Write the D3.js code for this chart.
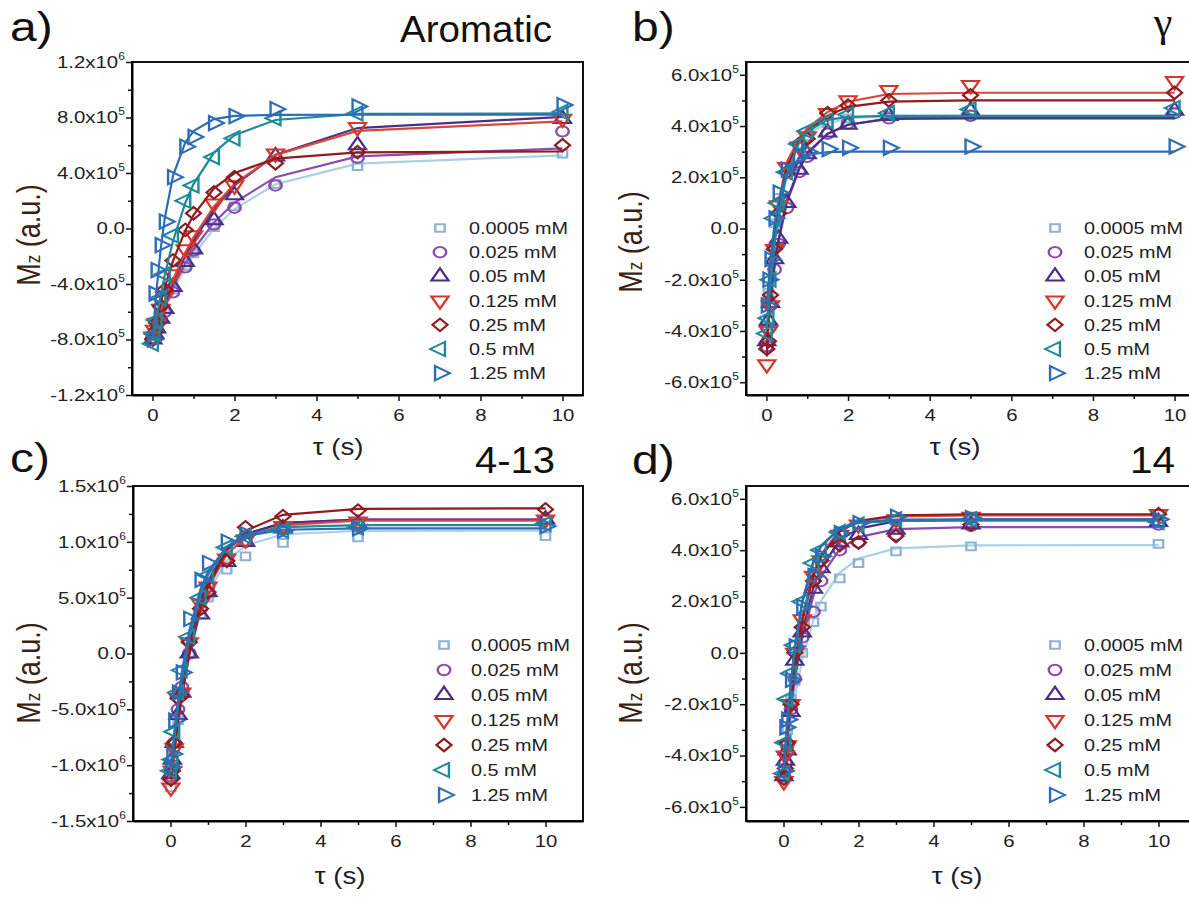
<!DOCTYPE html>
<html>
<head>
<meta charset="utf-8">
<script src="https://cdn.jsdelivr.net/npm/d3@7"></script>
<style>
  body { margin: 0; background: #fff; }
  svg { display: block; }
</style>
</head>
<body>
<svg id="fig" width="1189" height="897"></svg>
<script>
// T1 inversion recovery, Mz vs tau for 7 concentrations, 4 peaks
// all Mz values below are in units of 1e5 (a.u.)

var tau = [0.01, 0.05, 0.1, 0.2, 0.3, 0.5, 0.8, 1, 1.5, 2, 3, 5, 10];
var concentrations = ["0.0005 mM", "0.025 mM", "0.05 mM", "0.125 mM", "0.25 mM", "0.5 mM", "1.25 mM"];
var xTicks = [0, 2, 4, 6, 8, 10];
var xMinor = [1, 3, 5, 7, 9];

// a) Aromatic
var aromaticTicks = [-12, -8, -4, 0, 4, 8, 12];
var aromaticMinor = [-10, -6, -2, 2, 6, 10];
var aromaticPts = [
  [-8.0, -7.7, -7.3, -6.5, -5.8, -4.4, -2.7, -1.8, 0.1, 1.6, 3.2, 4.5, 5.4],
  [-7.9, -7.6, -7.3, -6.6, -6.0, -4.6, -2.8, -1.6, 0.3, 1.5, 3.1, 5.1, 7.0],
  [-8.0, -7.6, -7.2, -6.5, -5.8, -4.2, -2.4, -1.5, 0.6, 2.4, 5.2, 6.0, 7.9],
  [-7.8, -7.3, -6.8, -5.8, -4.9, -3.3, -1.5, -0.5, 1.8, 3.1, 5.4, 7.3, 7.9],
  [-8.0, -7.5, -6.8, -5.6, -4.4, -2.3, -0.1, 1.1, 2.6, 3.7, 4.7, 5.5, 6.0],
  [-8.3, -7.6, -6.6, -5.0, -3.3, -0.5, 2.0, 3.1, 5.15, 6.5, 7.95, 8.3, 8.4],
  [-8.0, -4.7, -3.0, -1.2, 0.5, 3.7, 5.9, 6.6, 7.6, 8.1, 8.6, 8.8, 8.9]
];
var aromaticFit = [
  [-7.92, -7.60, -7.21, -6.46, -5.77, -4.49, -2.84, -1.90, 0.00, 1.40, 3.19, 4.68, 5.27],
  [-7.82, -7.48, -7.07, -6.29, -5.56, -4.22, -2.51, -1.53, 0.44, 1.87, 3.70, 5.20, 5.77],
  [-7.91, -7.54, -7.09, -6.22, -5.41, -3.92, -1.99, -0.87, 1.40, 3.10, 5.31, 7.24, 8.05],
  [-7.70, -7.33, -6.87, -5.99, -5.17, -3.67, -1.74, -0.64, 1.59, 3.22, 5.31, 7.04, 7.72],
  [-7.85, -7.28, -6.61, -5.36, -4.24, -2.33, -0.14, 0.97, 2.89, 4.00, 5.03, 5.49, 5.55],
  [-8.11, -7.35, -6.45, -4.81, -3.35, -0.90, 1.84, 3.20, 5.47, 6.73, 7.82, 8.26, 8.30],
  [-7.77, -6.18, -4.40, -1.49, 0.75, 3.80, 6.20, 7.02, 7.88, 8.12, 8.19, 8.20, 8.20]
];

// b) gamma
var gammaTicks = [-6, -4, -2, 0, 2, 4, 6];
var gammaMinor = [-5, -3, -1, 1, 3, 5];
var gammaPts = [
  [-3.8, -2.5, -1.0, 0.2, 1.2, 2.4, 3.2, 3.6, 4.1, 4.3, 4.4, 4.45, 4.5],
  [-4.6, -3.9, -3.0, -1.6, -0.6, 0.8, 2.2, 2.8, 3.7, 4.1, 4.3, 4.4, 4.5],
  [-4.4, -3.6, -2.9, -1.2, -0.4, 1.0, 2.3, 2.9, 3.75, 4.05, 4.4, 4.6, 4.6],
  [-5.3, -4.0, -3.0, -0.8, 0.9, 2.4, 3.2, 3.6, 4.5, 5.0, 5.4, 5.6, 5.75],
  [-4.7, -4.4, -2.6, -0.8, 0.6, 2.2, 3.3, 3.5, 4.5, 4.8, 5.0, 5.2, 5.3],
  [-4.1, -3.5, -2.0, 0.4, 1.0, 2.2, 3.3, 3.8, 4.2, 4.45, 4.5, 4.65, 4.7],
  [-3.0, -2.0, -1.2, 0.4, 1.4, 2.3, 2.8, 3.0, 3.1, 3.15, 3.15, 3.2, 3.2]
];
var gammaFit = [
  [-3.8, -2.6, -1.3, 0.2, 1.2, 2.4, 3.3, 3.7, 4.1, 4.3, 4.4, 4.4, 4.4],
  [-4.5, -3.7, -2.8, -1.5, -0.5, 1.0, 2.3, 2.9, 3.7, 4.05, 4.3, 4.35, 4.35],
  [-4.4, -3.6, -2.7, -1.4, -0.4, 1.1, 2.35, 2.95, 3.7, 4.05, 4.28, 4.3, 4.3],
  [-5.0, -3.6, -2.2, -0.3, 1.0, 2.6, 3.5, 3.9, 4.55, 4.95, 5.25, 5.3, 5.3],
  [-4.9, -3.5, -2.2, -0.4, 0.9, 2.4, 3.4, 3.8, 4.4, 4.75, 4.95, 5.0, 5.0],
  [-3.88, -3.05, -2.13, -0.62, 0.54, 2.12, 3.36, 3.79, 4.24, 4.36, 4.40, 4.40, 4.40],
  [-3.05, -2.16, -1.22, 0.17, 1.10, 2.15, 2.74, 2.88, 2.98, 3.0, 3.0, 3.0, 3.0]
];

// c) 4-13
var p413Ticks = [-15, -10, -5, 0, 5, 10, 15];
var p413Minor = [-12.5, -7.5, -2.5, 2.5, 7.5, 12.5];
var p413Pts = [
  [-12.0, -10.0, -8.5, -6.0, -3.5, 0.0, 3.5, 5.0, 7.5, 8.7, 9.9, 10.4, 10.5],
  [-11.0, -10.0, -8.0, -5.0, -3.0, 0.0, 4.0, 6.0, 8.5, 10.0, 11.3, 11.5, 12.0],
  [-10.8, -9.5, -8.0, -5.5, -3.5, 0.0, 3.5, 5.5, 8.2, 10.0, 11.2, 11.6, 12.0],
  [-12.0, -10.5, -8.5, -4.0, -3.5, 1.0, 4.5, 6.0, 8.5, 10.2, 11.4, 11.8, 12.0],
  [-11.3, -10.5, -8.0, -4.0, -3.8, 1.0, 4.0, 5.5, 8.3, 11.3, 12.3, 12.8, 12.9],
  [-10.5, -9.5, -7.0, -3.5, -1.5, 1.5, 5.0, 7.0, 9.5, 10.5, 11.0, 11.3, 11.6],
  [-10.2, -9.0, -6.0, -3.5, -1.7, 3.1, 6.6, 8.1, 10.0, 10.7, 11.0, 11.2, 11.4]
];
var p413Fit = [
  [-11.67, -10.42, -8.94, -6.28, -3.98, -0.26, 3.67, 5.49, 8.30, 9.68, 10.68, 10.98, 11.0],
  [-11.17, -9.88, -8.37, -5.66, -3.31, 0.50, 4.51, 6.37, 9.24, 10.65, 11.68, 11.98, 12.0],
  [-11.2, -9.8, -8.2, -5.5, -3.1, 0.7, 4.7, 6.5, 9.35, 10.7, 11.7, 12.0, 12.0],
  [-11.95, -10.6, -9.0, -6.3, -3.9, 0.0, 4.0, 5.9, 8.9, 10.4, 11.5, 11.9, 11.9],
  [-11.2, -10.0, -8.62, -6.08, -3.84, -0.11, 3.99, 5.98, 9.24, 10.99, 12.42, 12.95, 13.0],
  [-10.64, -9.26, -7.65, -4.79, -2.37, 1.45, 5.31, 7.01, 9.50, 10.60, 11.32, 11.49, 11.5],
  [-10.13, -8.71, -7.06, -4.17, -1.74, 2.04, 5.74, 7.33, 9.57, 10.51, 11.08, 11.2, 11.2]
];

// d) 14
var p14Ticks = [-6, -4, -2, 0, 2, 4, 6];
var p14Minor = [-5, -3, -1, 1, 3, 5];
var p14Pts = [
  [-4.9, -4.0, -3.0, -1.8, -1.1, 0.0, 1.2, 1.8, 2.9, 3.5, 3.95, 4.15, 4.25],
  [-4.8, -4.3, -3.6, -2.2, -1.0, 0.6, 1.6, 2.8, 4.0, 4.3, 4.6, 4.95, 5.0],
  [-4.8, -4.2, -3.8, -2.3, -0.3, 0.8, 2.5, 3.3, 4.3, 4.6, 4.8, 5.0, 5.1],
  [-5.0, -4.0, -3.6, -2.0, 0.0, 1.3, 3.0, 3.6, 4.6, 5.0, 5.2, 5.3, 5.4],
  [-4.9, -4.5, -3.5, -2.0, 0.0, 1.0, 2.8, 3.6, 4.2, 4.3, 4.55, 5.0, 5.4],
  [-4.7, -3.5, -1.8, -0.8, 0.3, 2.0, 3.5, 4.0, 4.7, 5.0, 5.2, 5.2, 5.1],
  [-4.6, -2.9, -2.6, -1.05, 0.25, 1.8, 3.0, 3.76, 4.66, 5.05, 5.3, 5.25, 5.2]
];
var p14Fit = [
  [-4.77, -4.27, -3.69, -2.64, -1.73, -0.25, 1.30, 2.02, 3.13, 3.68, 4.07, 4.19, 4.2],
  [-4.64, -4.05, -3.35, -2.12, -1.08, 0.57, 2.23, 2.97, 4.04, 4.51, 4.82, 4.9, 4.9],
  [-4.64, -4.0, -3.27, -1.97, -0.87, 0.85, 2.56, 3.31, 4.38, 4.84, 5.13, 5.2, 5.2],
  [-4.80, -4.05, -3.19, -1.70, -0.46, 1.39, 3.13, 3.84, 4.77, 5.13, 5.32, 5.35, 5.35],
  [-4.71, -4.01, -3.19, -1.76, -0.57, 1.25, 3.00, 3.73, 4.73, 5.13, 5.36, 5.4, 5.4],
  [-4.57, -3.71, -2.74, -1.10, 0.20, 2.04, 3.60, 4.18, 4.85, 5.06, 5.14, 5.15, 5.15],
  [-4.48, -3.66, -2.73, -1.15, 0.12, 1.94, 3.53, 4.13, 4.85, 5.08, 5.19, 5.2, 5.2]
];

var colors = ["#8db3d9", "#8a4cb0", "#4b2e86", "#d4372b", "#8e1c20", "#1e8a9c", "#2e6db6"];
var lineColors = ["#a9d0e4", "#8a4cb0", "#4b2e86", "#d9463a", "#8e1c20", "#1e8a9c", "#2e6db6"];
var shapes = [
  {type: d3.symbolSquare, rot: 0, size: 60},
  {type: d3.symbolCircle, rot: 0, size: 85},
  {type: d3.symbolTriangle, rot: 0, size: 88},
  {type: d3.symbolTriangle, rot: 180, size: 88},
  {type: d3.symbolSquare, rot: 45, size: 78},
  {type: d3.symbolTriangle, rot: -90, size: 88},
  {type: d3.symbolTriangle, rot: 90, size: 88}
];

var FONT = "'Liberation Sans', Arial, sans-serif";
var SX = 1.2; // picture is stretched sideways, so is the text

var svg = d3.select("#fig");

function sci(v) {
  if (v === 0) return ["0.0", null];
  var val = v * 1e5;
  var e = Math.floor(Math.log10(Math.abs(val)) + 1e-9);
  var m = val / Math.pow(10, e);
  return [m.toFixed(1) + "x10", String(e)];
}

function drawPanel(p) {
  var x = d3.scaleLinear().domain(p.xDomain).range([p.left, p.right]);
  var y = d3.scaleLinear().domain(p.yDomain).range([p.bottom, p.top]);
  var g = svg.append("g");

  g.append("rect")
    .attr("x", p.left).attr("y", p.top)
    .attr("width", p.right - p.left).attr("height", p.bottom - p.top)
    .attr("fill", "none").attr("stroke", "#111").attr("stroke-width", 2);

  // x axis
  g.append("g").attr("transform", "translate(0," + p.bottom + ")")
    .call(d3.axisBottom(x).tickValues(xMinor).tickSize(4).tickSizeOuter(0).tickFormat(""))
    .call(function(a) { a.select(".domain").remove(); });
  var xa = g.append("g").attr("transform", "translate(0," + p.bottom + ")")
    .call(d3.axisBottom(x).tickValues(xTicks).tickSize(6).tickSizeOuter(0).tickPadding(8));
  xa.select(".domain").attr("stroke-width", 2);
  xa.selectAll(".tick text")
    .attr("font-family", FONT).attr("font-size", 17).attr("fill", "#222")
    .attr("transform", "scale(" + SX + ",1)");

  // y axis
  g.append("g").attr("transform", "translate(" + p.left + ",0)")
    .call(d3.axisLeft(y).tickValues(p.yMinor).tickSize(4).tickSizeOuter(0).tickFormat(""))
    .call(function(a) { a.select(".domain").remove(); });
  var ya = g.append("g").attr("transform", "translate(" + p.left + ",0)")
    .call(d3.axisLeft(y).tickValues(p.yTicks).tickSize(6).tickSizeOuter(0).tickPadding(0));
  ya.select(".domain").attr("stroke-width", 2);
  ya.selectAll(".tick text").each(function(d) {
    var parts = sci(d);
    var t = d3.select(this).text("")
      .attr("font-family", FONT).attr("font-size", 17).attr("fill", "#222")
      .attr("x", -6).attr("transform", "scale(" + SX + ",1)");
    t.append("tspan").text(parts[0]);
    if (parts[1]) t.append("tspan").attr("font-size", 10).attr("dy", "-0.8em").text(parts[1]);
  });
  g.selectAll(".tick line").attr("stroke", "#111").attr("stroke-width", 1.5);

  // fitted lines and points
  var line = d3.line().x(function(d) { return x(d[0]); }).y(function(d) { return y(d[1]); });
  p.fit.forEach(function(ser, i) {
    g.append("path").datum(tau.map(function(t, k) { return [t, ser[k]]; }))
      .attr("d", line).attr("fill", "none")
      .attr("stroke", lineColors[i]).attr("stroke-width", 2.2);
    var sym = d3.symbol().type(shapes[i].type).size(shapes[i].size);
    g.append("g").selectAll("path")
      .data(tau.map(function(t, k) { return [t, p.pts[i][k]]; }))
      .join("path")
      .attr("d", sym)
      .attr("transform", function(d) {
        return "translate(" + x(d[0]) + "," + y(d[1]) + ") scale(" + SX + ",1) rotate(" + shapes[i].rot + ")";
      })
      .attr("fill", "none").attr("stroke", colors[i]).attr("stroke-width", 2);
  });

  // legend
  var lg = g.append("g");
  concentrations.forEach(function(c, i) {
    var ly = p.legend.y0 + i * p.legend.dy;
    lg.append("path")
      .attr("d", d3.symbol().type(shapes[i].type).size(shapes[i].size)())
      .attr("transform", "translate(" + p.legend.mx + "," + ly + ") scale(" + SX + ",1) rotate(" + shapes[i].rot + ")")
      .attr("fill", "none").attr("stroke", colors[i]).attr("stroke-width", 2);
    lg.append("text")
      .attr("transform", "translate(" + p.legend.tx + "," + ly + ") scale(" + SX + ",1)")
      .attr("dy", "0.36em")
      .attr("font-family", FONT).attr("font-size", 16.5).attr("fill", "#222")
      .text(c);
  });

  // axis titles
  g.append("text")
    .attr("transform", "translate(" + p.xTitle[0] + "," + p.xTitle[1] + ") scale(" + SX + ",1)")
    .attr("text-anchor", "middle")
    .attr("font-family", FONT).attr("font-size", 23).attr("fill", "#1c1c2a")
    .text("τ (s)");
  var yt = g.append("text")
    .attr("transform", "translate(" + p.yTitle[0] + "," + p.yTitle[1] + ") scale(" + SX + ",1) rotate(-90)")
    .attr("text-anchor", "middle")
    .attr("font-family", FONT).attr("font-size", 27).attr("fill", "#3a1f12");
  yt.append("tspan").text("M");
  yt.append("tspan").attr("font-size", 17).text("z");
  yt.append("tspan").text(" (a.u.)");

  // panel letter and peak name
  g.append("text")
    .attr("transform", "translate(" + p.letter[0] + "," + p.letter[1] + ") scale(" + SX + ",1)")
    .attr("font-family", FONT).attr("font-size", 40).attr("fill", "#111")
    .text(p.letterText);
  var tt = g.append("text")
    .attr("x", p.title[0]).attr("y", p.title[1])
    .attr("font-family", FONT).attr("font-size", 36).attr("fill", "#111")
    .text(p.titleText);
  if (p.titleLen) tt.attr("textLength", p.titleLen).attr("lengthAdjust", "spacingAndGlyphs");
  else tt.attr("text-anchor", "middle").attr("font-size", 42)
         .attr("font-family", "'Liberation Serif', 'DejaVu Serif', serif");
}

var panels = [
  {left: 132, right: 583, top: 62, bottom: 395, xDomain: [-0.5, 10.5], yDomain: [-12, 12],
   yTicks: aromaticTicks, yMinor: aromaticMinor, pts: aromaticPts, fit: aromaticFit,
   legend: {mx: 440, tx: 469, y0: 228, dy: 24.2}, xTitle: [338, 455], yTitle: [40, 235],
   letter: [10, 41], letterText: "a)", title: [400, 42], titleText: "Aromatic", titleLen: 152},
  {left: 746, right: 1195, top: 62, bottom: 395, xDomain: [-0.5, 10.5], yDomain: [-6.5, 6.5],
   yTicks: gammaTicks, yMinor: gammaMinor, pts: gammaPts, fit: gammaFit,
   legend: {mx: 1055, tx: 1084, y0: 228, dy: 24.2}, xTitle: [955, 455], yTitle: [642, 242],
   letter: [632, 41], letterText: "b)", title: [1163, 36], titleText: "γ"},
  {left: 133, right: 583, top: 486, bottom: 821, xDomain: [-1, 11], yDomain: [-15, 15],
   yTicks: p413Ticks, yMinor: p413Minor, pts: p413Pts, fit: p413Fit,
   legend: {mx: 444, tx: 471, y0: 645, dy: 25}, xTitle: [340, 884], yTitle: [40, 673],
   letter: [10, 472], letterText: "c)", title: [475, 473], titleText: "4-13", titleLen: 80},
  {left: 746, right: 1196, top: 486, bottom: 821, xDomain: [-1, 11], yDomain: [-6.55, 6.5],
   yTicks: p14Ticks, yMinor: p14Minor, pts: p14Pts, fit: p14Fit,
   legend: {mx: 1055, tx: 1084, y0: 645, dy: 25}, xTitle: [957, 884], yTitle: [642, 673],
   letter: [632, 474], letterText: "d)", title: [1130, 473], titleText: "14", titleLen: 45}
];

panels.forEach(drawPanel);
</script>
</body>
</html>
